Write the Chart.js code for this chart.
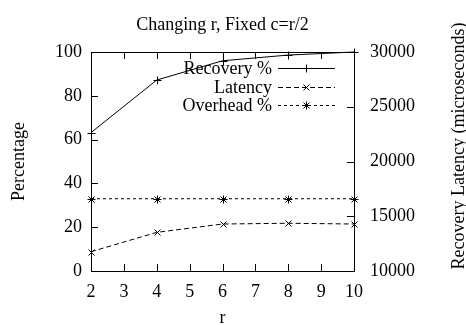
<!DOCTYPE html>
<html>
<head>
<meta charset="utf-8">
<script src="https://cdn.jsdelivr.net/npm/chart.js@4/dist/chart.umd.min.js"></script>
<style>
  html, body { margin: 0; padding: 0; background: #fff; }
  canvas { display: block; }
</style>
</head>
<body>
<canvas id="c" width="466" height="325"></canvas>
<script>
// ---- data ----
const rValues = [2, 4, 6, 8, 10];
const recoveryPct = [63.2, 87.2, 96.0, 98.6, 100];
const latencyUs = [11760, 13530, 14290, 14360, 14290];
const overheadPct = [33, 33, 33, 33, 33];
const seriesLabels = ['Recovery %', 'Latency', 'Overhead %'];
const xTickValues = [2, 3, 4, 5, 6, 7, 8, 9, 10];
const yTickValues = [0, 20, 40, 60, 80, 100];
const y2TickValues = [10000, 15000, 20000, 25000, 30000];
const titleText = 'Changing r, Fixed c=r/2';
const xTitle = 'r';
const yTitle = 'Percentage';
const y2Title = 'Recovery Latency (microseconds)';

const FONT = '"Liberation Serif", "Times New Roman", serif';
const toXY = (ys) => rValues.map((x, i) => ({ x: x, y: ys[i] }));

function drawMarker(ctx, style, x, y, r) {
  ctx.beginPath();
  if (style === 'cross' || style === 'star') {
    ctx.moveTo(x - r, y); ctx.lineTo(x + r, y);
    ctx.moveTo(x, y - r); ctx.lineTo(x, y + r);
  }
  if (style === 'crossRot' || style === 'star') {
    const d = r * 0.75;
    ctx.moveTo(x - d, y - d); ctx.lineTo(x + d, y + d);
    ctx.moveTo(x - d, y + d); ctx.lineTo(x + d, y - d);
  }
  ctx.stroke();
}

const decor = {
  id: 'decor',
  afterDraw(chart) {
    const ctx = chart.ctx;
    const a = chart.chartArea;
    const sx = chart.scales.x, sy = chart.scales.y, sy2 = chart.scales.y2;
    ctx.save();
    ctx.strokeStyle = '#000';
    ctx.fillStyle = '#000';
    ctx.lineWidth = 1;
    ctx.setLineDash([]);
    // frame
    ctx.strokeRect(Math.round(a.left) + 0.5, Math.round(a.top) + 0.5,
                   Math.round(a.right - a.left), Math.round(a.bottom - a.top));
    const T = 7;
    ctx.beginPath();
    xTickValues.forEach(v => {
      const px = Math.round(sx.getPixelForValue(v)) + 0.5;
      ctx.moveTo(px, a.bottom); ctx.lineTo(px, a.bottom - T);
      ctx.moveTo(px, a.top); ctx.lineTo(px, a.top + T);
    });
    yTickValues.forEach(v => {
      const py = Math.round(sy.getPixelForValue(v)) + 0.5;
      ctx.moveTo(a.left, py); ctx.lineTo(a.left + T, py);
    });
    y2TickValues.forEach(v => {
      const py = Math.round(sy2.getPixelForValue(v)) + 0.5;
      ctx.moveTo(a.right, py); ctx.lineTo(a.right - T, py);
    });
    ctx.stroke();

    // title
    ctx.font = '18px ' + FONT;
    ctx.textAlign = 'center';
    ctx.textBaseline = 'alphabetic';
    ctx.fillText(titleText, (a.left + a.right) / 2, 30);

    // right axis title (reads bottom to top)
    ctx.save();
    ctx.translate(459, 146);
    ctx.rotate(-Math.PI / 2);
    ctx.textBaseline = 'middle';
    ctx.fillText(y2Title, 0, 0);
    ctx.restore();

    // legend
    ctx.textAlign = 'right';
    ctx.textBaseline = 'alphabetic';
    chart.data.datasets.forEach((ds, i) => {
      const base = 74 + i * 18.7;
      const ly = Math.round(base - 6) + 0.5;
      ctx.fillText(ds.label, 272, base);
      ctx.setLineDash(ds.borderDash || []);
      ctx.beginPath();
      ctx.moveTo(278, ly); ctx.lineTo(335, ly);
      ctx.stroke();
      ctx.setLineDash([]);
      drawMarker(ctx, ds.pointStyle, 306.5, ly, 4);
    });
    ctx.restore();
  }
};

const markerPlugin = {
  id: 'markers',
  afterDatasetsDraw(chart) {
    const ctx = chart.ctx;
    ctx.save();
    ctx.strokeStyle = '#000';
    ctx.lineWidth = 1;
    ctx.setLineDash([]);
    chart.data.datasets.forEach((ds, i) => {
      const meta = chart.getDatasetMeta(i);
      meta.data.forEach(pt => drawMarker(ctx, ds.pointStyle, Math.round(pt.x) + 0.5, Math.round(pt.y) + 0.5, 4));
    });
    ctx.restore();
  }
};

new Chart(document.getElementById('c'), {
  type: 'line',
  data: {
    datasets: [
      { label: seriesLabels[0], data: toXY(recoveryPct), yAxisID: 'y',
        borderColor: '#000', borderWidth: 1, pointStyle: 'cross', pointRadius: 0, tension: 0, clip: false },
      { label: seriesLabels[1], data: toXY(latencyUs), yAxisID: 'y2',
        borderColor: '#000', borderWidth: 1, borderDash: [5, 3], pointStyle: 'crossRot', pointRadius: 0, tension: 0, clip: false },
      { label: seriesLabels[2], data: toXY(overheadPct), yAxisID: 'y',
        borderColor: '#000', borderWidth: 1, borderDash: [3, 3], pointStyle: 'star', pointRadius: 0, tension: 0, clip: false }
    ]
  },
  options: {
    responsive: false,
    animation: false,
    layout: { padding: { top: 52, left: 0, right: 0, bottom: 0 } },
    plugins: { legend: { display: false }, title: { display: false }, tooltip: { enabled: false } },
    scales: {
      x: {
        type: 'linear', min: 2, max: 10,
        grid: { display: false, drawTicks: false }, border: { display: false },
        ticks: { stepSize: 1, color: '#000', padding: 12, font: { family: FONT, size: 18, lineHeight: 1 },
                 callback: (v) => String(v) },
        afterBuildTicks: (s) => { s.ticks = xTickValues.map(v => ({ value: v })); },
        title: { display: true, text: xTitle, color: '#000', padding: { top: 0, bottom: 0 }, font: { family: FONT, size: 18, lineHeight: 0.7 } },
        afterFit: (s) => { s.height = 54; }
      },
      y: {
        type: 'linear', position: 'left', min: 0, max: 100,
        grid: { display: false, drawTicks: false }, border: { display: false },
        ticks: { stepSize: 20, color: '#000', padding: 9, font: { family: FONT, size: 18 },
                 callback: (v) => String(v) },
        afterBuildTicks: (s) => { s.ticks = yTickValues.map(v => ({ value: v })); },
        title: { display: true, text: yTitle, color: '#000', padding: { top: 10, bottom: 0 }, font: { family: FONT, size: 18, lineHeight: 1 } },
        afterFit: (s) => { s.width = 91; }
      },
      y2: {
        type: 'linear', position: 'right', min: 10000, max: 30000,
        grid: { display: false, drawTicks: false }, border: { display: false },
        ticks: { stepSize: 5000, color: '#000', padding: 16, font: { family: FONT, size: 18 },
                 callback: (v) => String(v) },
        afterBuildTicks: (s) => { s.ticks = y2TickValues.map(v => ({ value: v })); },
        title: { display: false },
        afterFit: (s) => { s.width = 112; }
      }
    }
  },
  plugins: [decor, markerPlugin]
});
</script>
</body>
</html>
